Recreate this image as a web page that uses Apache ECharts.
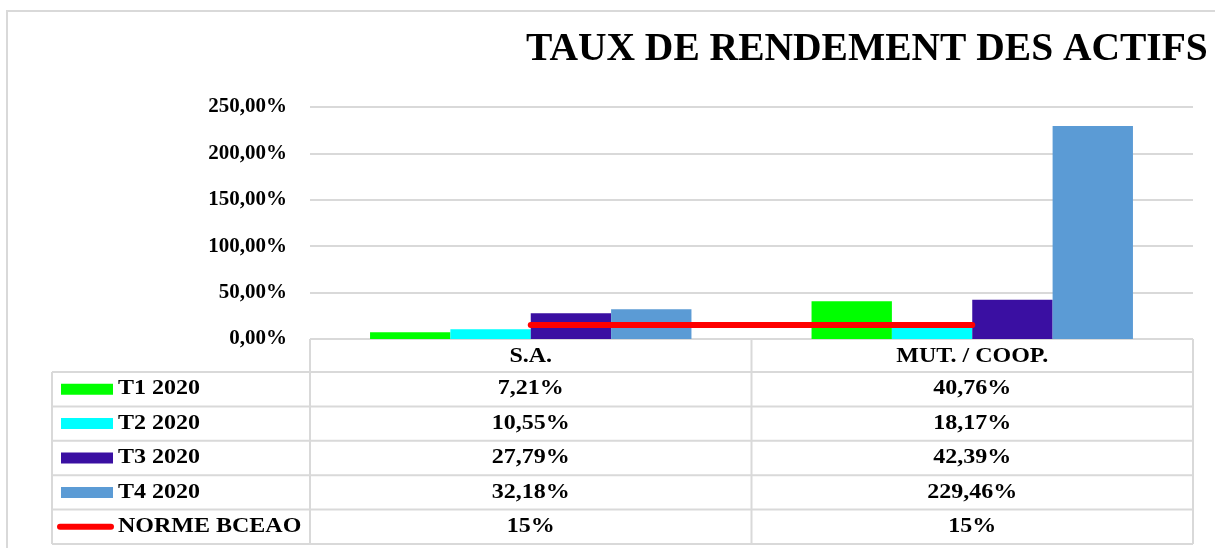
<!DOCTYPE html>
<html>
<head>
<meta charset="utf-8">
<title>Taux de rendement des actifs</title>
<script src="https://cdn.jsdelivr.net/npm/echarts@6/dist/echarts.min.js"></script>
<style>
  html, body { margin: 0; padding: 0; background: #fff; }
  #chart { width: 1215px; height: 548px; }
</style>
</head>
<body>
<div id="chart"></div>
<script>
const categories = ['S.A.', 'MUT. / COOP.'];
const seriesNames = ['T1 2020', 'T2 2020', 'T3 2020', 'T4 2020', 'NORME BCEAO'];
const t1 = [7.21, 40.76];
const t2 = [10.55, 18.17];
const t3 = [27.79, 42.39];
const t4 = [32.18, 229.46];
const norme = [15, 15];
const colors = ['#00ff00', '#00ffff', '#3a0fa2', '#5b9bd5', '#ff0000'];

const FONT = '"Liberation Serif", "Times New Roman", serif';
const GRID_COLOR = '#d9d9d9';

function fmt(v) {
  if (Number.isInteger(v)) return v + '%';
  return v.toFixed(2).replace('.', ',') + '%';
}

const chart = echarts.init(document.getElementById('chart'));

const barValues = [t1, t2, t3, t4];

let option = {
  animation: false,
  backgroundColor: '#fff',
  title: {
    text: 'TAUX DE RENDEMENT DES ACTIFS',
    left: 526,
    top: 30,
    padding: 0,
    textStyle: { fontFamily: FONT, fontWeight: 'bold', fontSize: 39.5, color: '#000' }
  },
  grid: { left: 310, right: 22, top: 107, bottom: 209 },
  xAxis: {
    type: 'category',
    data: categories,
    axisLine: { show: false },
    axisTick: { show: false },
    axisLabel: { show: false }
  },
  yAxis: {
    type: 'value',
    min: 0,
    max: 250,
    interval: 50,
    axisLine: { show: false },
    axisTick: { show: false },
    splitLine: { lineStyle: { color: GRID_COLOR, width: 2 } },
    axisLabel: {
      margin: 23,
      fontFamily: FONT,
      fontWeight: 'bold',
      fontSize: 21,
      color: '#000',
      formatter: (v) => v.toFixed(2).replace('.', ',') + '%'
    }
  },
  series: barValues.map((vals, i) => ({
    name: seriesNames[i],
    type: 'bar',
    data: vals,
    barGap: 0,
    barCategoryGap: '27.2%',
    itemStyle: { color: colors[i] }
  })).concat([{
    name: seriesNames[4],
    type: 'line',
    data: norme,
    symbol: 'none',
    z: 5,
    lineStyle: { color: colors[4], width: 6, cap: 'round' }
  }])
};

chart.setOption(option);

// data table under the plot
const tableTop = 339;
const headerBottom = 372;
const rowH = 34.4;
const tableLeft = 52;
const gridLeft = 310;
const gridRight = 1193;
const colSplit = (gridLeft + gridRight) / 2;
const tableBottom = headerBottom + rowH * 5;

function line(x1, y1, x2, y2) {
  return { type: 'line', shape: { x1, y1, x2, y2 }, style: { stroke: GRID_COLOR, lineWidth: 2 }, silent: true };
}
function txt(x, y, text, align) {
  return {
    type: 'text', x, y, scaleX: 1.2, z: 10,
    style: {
      text, x: 0, y: 0,
      fontFamily: FONT, fontWeight: 'bold', fontSize: 20, fill: '#000',
      align, textAlign: align, verticalAlign: 'middle', textVerticalAlign: 'middle'
    }
  };
}

const graphics = [];
// outer chart border
graphics.push({
  type: 'rect', shape: { x: 7, y: 11, width: 1300, height: 600 },
  style: { fill: 'none', stroke: GRID_COLOR, lineWidth: 2 }, silent: true, z: -10
});
// verticals
graphics.push(line(gridLeft, tableTop, gridLeft, tableBottom));
graphics.push(line(colSplit, tableTop, colSplit, tableBottom));
graphics.push(line(gridRight, tableTop, gridRight, tableBottom));
graphics.push(line(tableLeft, headerBottom, tableLeft, tableBottom));
// horizontals
for (let r = 0; r <= 5; r++) {
  const y = headerBottom + rowH * r;
  graphics.push(line(tableLeft, y, gridRight, y));
}

// header
categories.forEach((c, j) => {
  const cx = chart.convertToPixel({ xAxisIndex: 0 }, j);
  graphics.push(txt(cx, (tableTop + headerBottom) / 2 + 1, c, 'center'));
});

const rows = [t1, t2, t3, t4, norme];
rows.forEach((vals, i) => {
  const cy = headerBottom + rowH * i + rowH / 2;
  // legend key
  if (i < 4) {
    graphics.push({ type: 'rect', shape: { x: 61, y: cy - 5.5, width: 52, height: 11 }, style: { fill: colors[i] }, z: 10 });
  } else {
    graphics.push({ type: 'line', shape: { x1: 60, y1: cy, x2: 111, y2: cy }, style: { stroke: colors[i], lineWidth: 6, lineCap: 'round' }, z: 10 });
  }
  graphics.push(txt(118, cy, seriesNames[i], 'left'));
  vals.forEach((v, j) => {
    const cx = chart.convertToPixel({ xAxisIndex: 0 }, j);
    graphics.push(txt(cx, cy, fmt(v), 'center'));
  });
});

chart.setOption({ graphic: { elements: graphics } });
</script>
</body>
</html>
